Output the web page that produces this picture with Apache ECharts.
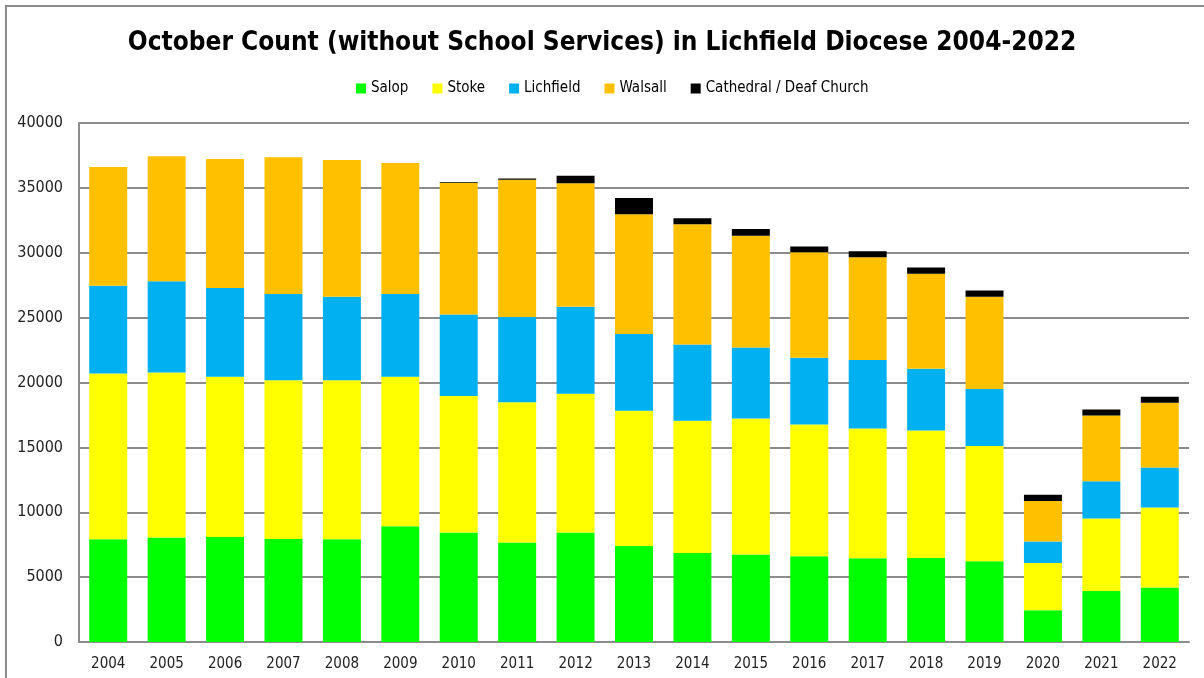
<!DOCTYPE html>
<html>
<head>
<meta charset="utf-8">
<script src="https://cdn.jsdelivr.net/npm/echarts@6/dist/echarts.min.js"></script>
<style>
  html, body { margin: 0; padding: 0; background: #fff; }
  #chart { width: 1204px; height: 678px; }
</style>
</head>
<body>
<div id="chart"></div>
<script>
// years on the x axis
const years = ['2004', '2005', '2006', '2007', '2008', '2009', '2010', '2011', '2012', '2013',
  '2014', '2015', '2016', '2017', '2018', '2019', '2020', '2021', '2022'];

// attendance per archdeaconry
const salop = [7920, 8050, 8100, 7930, 7920, 8920, 8435, 7665, 8435, 7405,
  6865, 6740, 6610, 6455, 6470, 6225, 2445, 3935, 4195];
const stoke = [12780, 12725, 12340, 12250, 12260, 11520, 10515, 10820, 10695, 10410,
  10180, 10490, 10155, 10000, 9830, 8890, 3650, 5580, 6170];
const lichfield = [6755, 7020, 6840, 6635, 6430, 6390, 6300, 6555, 6705, 5915,
  5890, 5470, 5135, 5270, 4755, 4375, 1645, 2880, 3085];
const walsall = [9155, 9640, 9945, 10540, 10540, 10090, 10150, 10590, 9515, 9230,
  9255, 8610, 8130, 7920, 7325, 7115, 3135, 5065, 4980];
const cathedral = [0, 0, 0, 0, 0, 0, 50, 100, 590, 1260,
  460, 520, 460, 465, 490, 495, 465, 460, 465];

const seriesList = [
  {name: 'Salop', data: salop, color: '#00ff00'},
  {name: 'Stoke', data: stoke, color: '#ffff00'},
  {name: 'Lichfield', data: lichfield, color: '#00b0f0'},
  {name: 'Walsall', data: walsall, color: '#ffc000'},
  {name: 'Cathedral / Deaf Church', data: cathedral, color: '#000000'}
];

const font = 'DejaVu Sans Condensed, sans-serif';

const chart = echarts.init(document.getElementById('chart'));

const option = {
  animation: false,
  backgroundColor: '#fff',
  graphic: [
    {
      type: 'rect',
      shape: {x: 6, y: 6, width: 1220, height: 700},
      style: {fill: 'none', stroke: '#8c8c8c', lineWidth: 2},
      silent: true
    }
  ],
  title: {
    text: 'October Count (without School Services) in Lichfield Diocese 2004-2022',
    left: 'center',
    top: 25,
    textStyle: {
      fontFamily: font,
      fontWeight: 'bold',
      fontSize: 26,
      color: '#000'
    }
  },
  legend: {
    top: 76,
    left: 351,
    itemWidth: 10,
    itemHeight: 10,
    itemGap: 24,
    icon: 'rect',
    textStyle: {
      fontFamily: font,
      fontSize: 15,
      color: '#000'
    },
    data: seriesList.map(s => s.name)
  },
  grid: {
    left: 79,
    right: 15,
    top: 123,
    bottom: 36
  },
  xAxis: {
    type: 'category',
    data: years,
    axisTick: {show: false},
    axisLine: {lineStyle: {color: '#8c8c8c', width: 2}},
    axisLabel: {
      margin: 15,
      fontFamily: font,
      fontSize: 15,
      color: '#222'
    }
  },
  yAxis: {
    type: 'value',
    min: 0,
    max: 40000,
    interval: 5000,
    axisLine: {show: true, lineStyle: {color: '#8c8c8c', width: 2}},
    axisTick: {show: false},
    splitLine: {lineStyle: {color: '#8c8c8c', width: 2}},
    axisLabel: {
      margin: 16,
      fontFamily: font,
      fontSize: 16,
      color: '#222',
      formatter: v => String(v)
    }
  },
  series: seriesList.map(s => ({
    name: s.name,
    type: 'bar',
    stack: 'total',
    barCategoryGap: '35%',
    data: s.data,
    itemStyle: {color: s.color}
  }))
};

chart.setOption(option);
</script>
</body>
</html>
